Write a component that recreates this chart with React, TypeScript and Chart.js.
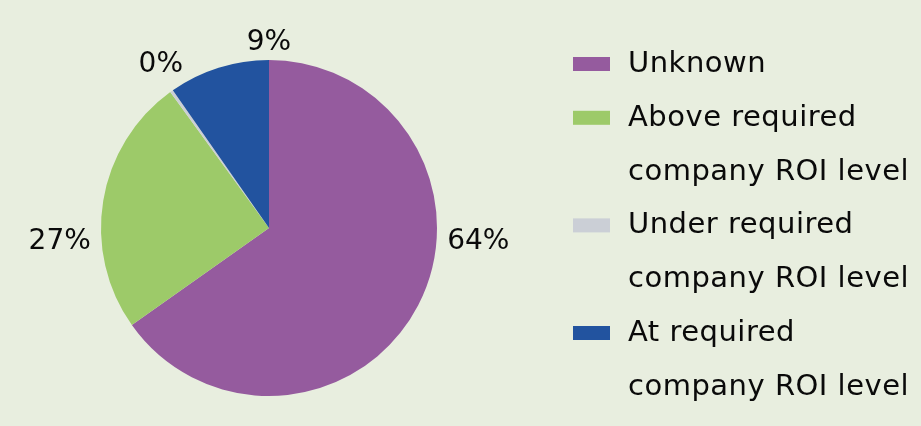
import React, { useEffect, useRef } from "react";
import { Chart, registerables } from "chart.js";

Chart.register(...registerables);

const categories = [
  "Unknown",
  "Above required company ROI level",
  "Under required company ROI level",
  "At required company ROI level",
];
const legendLines = [
  ["Unknown"],
  ["Above required", "company ROI level"],
  ["Under required", "company ROI level"],
  ["At required", "company ROI level"],
];
const shares = [65.2, 24.8, 0.3, 9.7];
const percentLabels = ["64%", "27%", "0%", "9%"];
const colors = ["#955B9E", "#9DCA69", "#CBCFD6", "#22539F"];

const BG = "#E8EEDF";
const FONT = "'DejaVu Sans', sans-serif";

const percentLabelPlugin = {
  id: "percentLabels",
  afterDatasetsDraw(chart: any, _args: any, opts: any) {
    const ctx = chart.ctx;
    const meta = chart.getDatasetMeta(0);
    ctx.save();
    ctx.font = `${opts.size}px ${FONT}`;
    ctx.fillStyle = "#0A0A0A";
    ctx.textAlign = "center";
    ctx.textBaseline = "alphabetic";
    meta.data.forEach((arc: any, i: number) => {
      const { x, y, outerRadius } = arc.getProps(["x", "y", "outerRadius"], true);
      const a = (opts.angles[i] * Math.PI) / 180;
      const dx = Math.sin(a);
      const dy = -Math.cos(a);
      const text = percentLabels[i];
      const w = ctx.measureText(text).width;
      const h = opts.size * 0.73;
      const d = outerRadius + opts.gap + Math.abs(dx) * w / 2 + Math.abs(dy) * h / 2;
      const cx = x + dx * d;
      const cy = y + dy * d;
      ctx.fillText(text, cx, cy + h / 2);
    });
    ctx.restore();
  },
};

const sideLegendPlugin = {
  id: "sideLegend",
  afterDraw(chart: any, _args: any, opts: any) {
    const ctx = chart.ctx;
    ctx.save();
    ctx.font = `${opts.size}px ${FONT}`;
    ctx.textAlign = "left";
    ctx.textBaseline = "alphabetic";
    try { (ctx as any).letterSpacing = opts.letterSpacing + "px"; } catch (e) {}
    let line = 0;
    const bgColors = chart.data.datasets[0].backgroundColor;
    legendLines.forEach((lines, i) => {
      const base = opts.y + line * opts.lineHeight;
      ctx.fillStyle = bgColors[i];
      ctx.fillRect(opts.x, base - opts.boxH - 1, opts.boxW, opts.boxH);
      ctx.fillStyle = "#0A0A0A";
      lines.forEach((t, j) => {
        ctx.fillText(t, opts.x + opts.textOffset, opts.y + (line + j) * opts.lineHeight);
      });
      line += lines.length;
    });
    ctx.restore();
  },
};

export default function App() {
  const ref = useRef<HTMLCanvasElement | null>(null);
  useEffect(() => {
    if (!ref.current) return;
    const chart = new Chart(ref.current, {
      type: "pie",
      data: {
        labels: categories,
        datasets: [
          {
            data: shares,
            backgroundColor: colors,
            borderWidth: 0,
          },
        ],
      },
      options: {
        responsive: false,
        animation: false,
        layout: { padding: { left: 101, right: 484, top: 60, bottom: 30 } },
        plugins: {
          legend: { display: false },
          tooltip: { enabled: false },
          percentLabels: { angles: [93, 267, 327, 0], gap: 10, size: 28 },
          sideLegend: {
            x: 573,
            y: 72,
            lineHeight: 53.8,
            boxW: 37,
            boxH: 14,
            textOffset: 55,
            size: 29,
            letterSpacing: 0.5,
          },
        } as any,
      },
      plugins: [percentLabelPlugin, sideLegendPlugin],
    });
    return () => chart.destroy();
  }, []);
  return (
    <div style={{ position: "fixed", left: 0, top: 0, width: 921, height: 426, background: BG }}>
      <canvas ref={ref} width={921} height={426} style={{ display: "block", width: 921, height: 426 }} />
    </div>
  );
}
